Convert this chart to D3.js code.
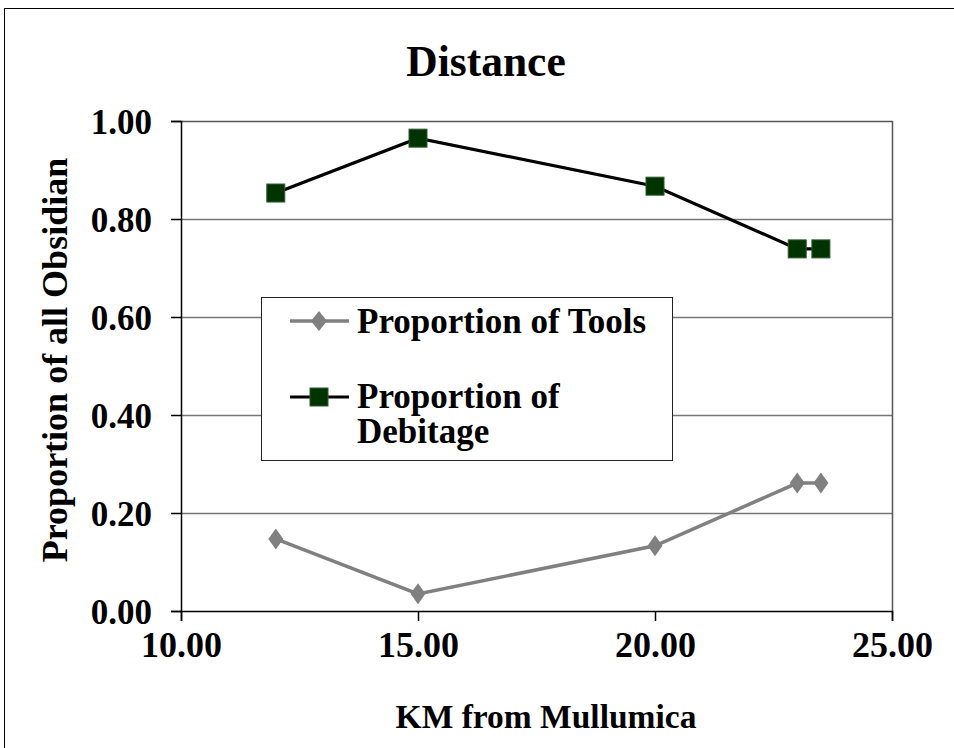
<!DOCTYPE html>
<html>
<head>
<meta charset="utf-8">
<script src="https://cdn.jsdelivr.net/npm/d3@7"></script>
<style>
  body { margin: 0; background: #fff; }
  text { font-family: "Liberation Serif", "Times New Roman", serif; font-weight: bold; }
</style>
</head>
<body>
<svg id="chart"></svg>
<script>
// data
const km = [12, 15, 20, 23, 23.5];
const tools = [0.147, 0.035, 0.133, 0.261, 0.261];
const debitage = [0.853, 0.965, 0.867, 0.739, 0.739];
const xTicks = [10, 15, 20, 25];
const yTicks = [0, 0.2, 0.4, 0.6, 0.8, 1.0];

const width = 954;
const height = 748;
const plotLeft = 181, plotRight = 892, plotTop = 121, plotBottom = 611;

const svg = d3.select('#chart')
    .attr('width', width)
    .attr('height', height);

// outer chart border
svg.append('rect')
    .attr('x', 4.5).attr('y', 8.5)
    .attr('width', 1000).attr('height', 1000)
    .attr('fill', 'white')
    .attr('stroke', '#000')
    .attr('stroke-width', 1);

const x = d3.scaleLinear().domain([10, 25]).range([plotLeft, plotRight]);
const y = d3.scaleLinear().domain([0, 1]).range([plotBottom, plotTop]);

// gridlines
svg.append('g')
    .selectAll('line')
    .data(yTicks.filter(d => d > 0 && d < 1))
    .enter()
    .append('line')
    .attr('x1', plotLeft).attr('x2', plotRight)
    .attr('y1', d => Math.round(y(d)) + 0.5)
    .attr('y2', d => Math.round(y(d)) + 0.5)
    .attr('stroke', '#777')
    .attr('stroke-width', 1.5);

// plot area border (top, right)
svg.append('path')
    .attr('d', `M${plotLeft},${plotTop + 0.5}H${plotRight + 0.5}V${plotBottom}`)
    .attr('fill', 'none')
    .attr('stroke', '#555')
    .attr('stroke-width', 1.5);

// axes
const yAxis = d3.axisLeft(y).tickValues(yTicks).tickSize(10).tickPadding(19).tickFormat(d3.format('.2f'));
const gy = svg.append('g')
    .attr('transform', 'translate(' + plotLeft + ',0)')
    .call(yAxis);
gy.select('.domain').attr('stroke', '#000').attr('stroke-width', 1.5);
gy.selectAll('.tick line').attr('stroke', '#000').attr('stroke-width', 1.5);
gy.selectAll('.tick text')
    .attr('font-family', '"Liberation Serif", serif')
    .attr('font-size', 35)
    .attr('fill', '#000')
    .attr('dy', '0.36em');

const xAxis = d3.axisBottom(x).tickValues(xTicks).tickSize(10).tickPadding(10).tickFormat(d3.format('.2f'));
const gx = svg.append('g')
    .attr('transform', 'translate(0,' + plotBottom + ')')
    .call(xAxis);
gx.select('.domain').attr('stroke', '#000').attr('stroke-width', 1.5);
gx.selectAll('.tick line').attr('stroke', '#000').attr('stroke-width', 1.5);
gx.selectAll('.tick text')
    .attr('font-family', '"Liberation Serif", serif')
    .attr('font-size', 36)
    .attr('fill', '#000')
    .attr('dy', '0.71em');

// series
const tData = km.map((k, i) => [k, tools[i]]);
const dData = km.map((k, i) => [k, debitage[i]]);
const line = d3.line().x(d => x(d[0])).y(d => y(d[1]));

svg.append('path')
    .datum(tData)
    .attr('d', line)
    .attr('fill', 'none')
    .attr('stroke', '#808080')
    .attr('stroke-width', 3.5);

svg.append('path')
    .datum(dData)
    .attr('d', line)
    .attr('fill', 'none')
    .attr('stroke', '#000')
    .attr('stroke-width', 3.2);

const diamond = 'M0,-10.5L7.5,0L0,10.5L-7.5,0Z';

svg.append('g')
    .selectAll('path')
    .data(tData)
    .enter()
    .append('path')
    .attr('d', diamond)
    .attr('transform', d => 'translate(' + x(d[0]) + ',' + y(d[1]) + ')')
    .attr('fill', '#808080');

svg.append('g')
    .selectAll('rect')
    .data(dData)
    .enter()
    .append('rect')
    .attr('x', d => x(d[0]) - 9)
    .attr('y', d => y(d[1]) - 9)
    .attr('width', 18).attr('height', 18)
    .attr('fill', '#003300')
    .attr('stroke', '#2f5a2f')
    .attr('stroke-width', 1);

// legend
const lg = svg.append('g');
lg.append('rect')
    .attr('x', 261.5).attr('y', 297.5)
    .attr('width', 411).attr('height', 163)
    .attr('fill', 'white')
    .attr('stroke', '#222')
    .attr('stroke-width', 1);

lg.append('line')
    .attr('x1', 290).attr('x2', 349).attr('y1', 321).attr('y2', 321)
    .attr('stroke', '#808080').attr('stroke-width', 3.5);
lg.append('path')
    .attr('d', 'M0,-10L8,0L0,10L-8,0Z')
    .attr('transform', 'translate(319,321)')
    .attr('fill', '#808080');
lg.append('text')
    .attr('x', 357).attr('y', 333)
    .attr('font-size', 35)
    .text('Proportion of Tools');

lg.append('line')
    .attr('x1', 290).attr('x2', 349).attr('y1', 397).attr('y2', 397)
    .attr('stroke', '#000').attr('stroke-width', 3.2);
lg.append('rect')
    .attr('x', 310).attr('y', 388)
    .attr('width', 18).attr('height', 18)
    .attr('fill', '#003300')
    .attr('stroke', '#2f5a2f');
lg.append('text')
    .attr('x', 357).attr('y', 408)
    .attr('font-size', 35)
    .text('Proportion of');
lg.append('text')
    .attr('x', 357).attr('y', 443)
    .attr('font-size', 35)
    .text('Debitage');

// titles
svg.append('text')
    .attr('x', 486).attr('y', 76)
    .attr('text-anchor', 'middle')
    .attr('font-size', 43.5)
    .text('Distance');

svg.append('text')
    .attr('x', 546).attr('y', 728)
    .attr('text-anchor', 'middle')
    .attr('font-size', 33.5)
    .text('KM from Mullumica');

svg.append('text')
    .attr('transform', 'translate(67,360) rotate(-90)')
    .attr('text-anchor', 'middle')
    .attr('font-size', 36)
    .text('Proportion of all Obsidian');
</script>
</body>
</html>
